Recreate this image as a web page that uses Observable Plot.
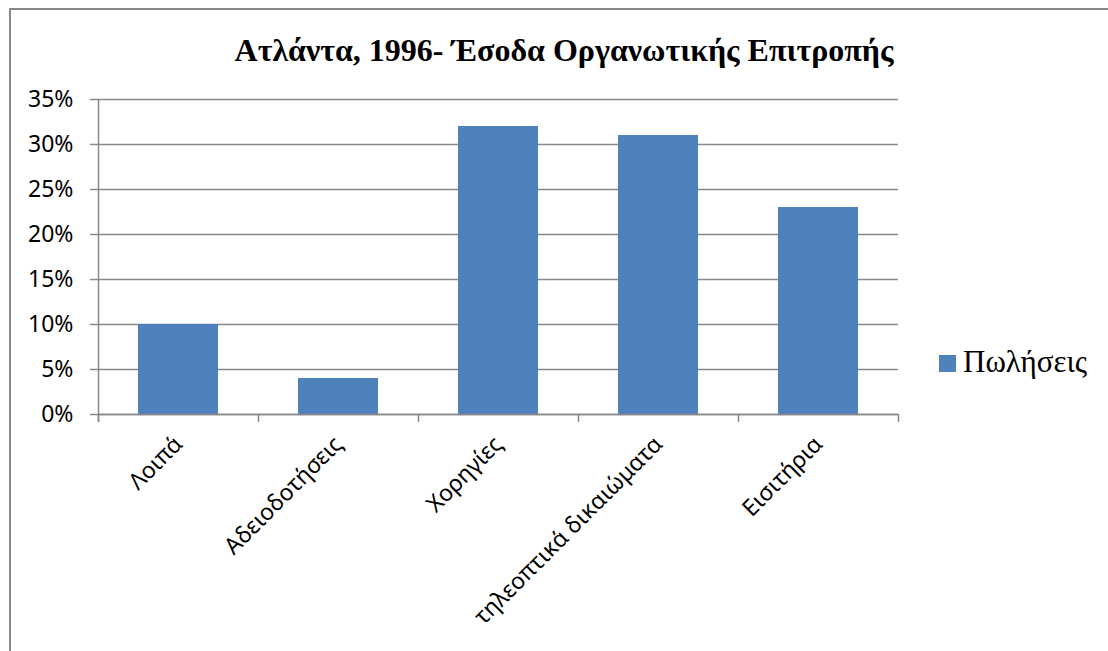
<!DOCTYPE html>
<html>
<head>
<meta charset="utf-8">
<script src="https://cdn.jsdelivr.net/npm/d3@7"></script>
<script src="https://cdn.jsdelivr.net/npm/@observablehq/plot@0.6"></script>
<style>
  html, body { margin: 0; padding: 0; background: #fff; }
  #chart { position: relative; width: 1108px; height: 651px; overflow: hidden; background: #fff; }
  #frame { position: absolute; left: 9px; top: 8px; width: 1200px; height: 1000px; border: 2px solid #898989; box-sizing: border-box; }
  #title { position: absolute; left: 10px; width: 1108px; top: 30px; text-align: center;
           font-family: "Liberation Serif", "Times New Roman", serif; font-weight: bold; font-size: 32px; line-height: 40px; color: #000; white-space: nowrap; }
  #plot { position: absolute; left: 0; top: 80px; }
  #legend { position: absolute; left: 939px; top: 342px; display: flex; align-items: center; height: 40px;
            font-family: "Liberation Serif", "Times New Roman", serif; font-size: 31px; color: #000; white-space: nowrap; }
  #legend .sw { width: 17px; height: 17px; margin-right: 7px; margin-top: 2px; }
</style>
</head>
<body>
<div id="chart">
  <div id="frame"></div>
  <div id="title"></div>
  <div id="plot"></div>
  <div id="legend"><div class="sw"></div><span class="lbl"></span></div>
</div>
<script>
const title = "Ατλάντα, 1996- Έσοδα Οργανωτικής Επιτροπής";
const seriesName = "Πωλήσεις";
const categories = ["Λοιπά", "Αδειοδοτήσεις", "Χορηγίες", "τηλεοπτικά δικαιώματα", "Εισιτήρια"];
const values = [10, 4, 32, 31, 23];
const yTicks = [0, 5, 10, 15, 20, 25, 30, 35];

const barColor = "#4F81BD";
const gray = "#898989";

const data = categories.map((c, i) => ({category: c, value: values[i]}));

document.getElementById("title").textContent = title;
document.querySelector("#legend .sw").style.background = barColor;
document.querySelector("#legend .lbl").textContent = seriesName;

const plot = Plot.plot({
  width: 1108,
  height: 571,
  marginLeft: 98,
  marginRight: 210,
  marginTop: 19,
  marginBottom: 237,
  style: {fontFamily: "'Noto Sans', sans-serif", fontSize: "23px", color: "#000", background: "transparent", overflow: "visible"},
  x: {domain: categories, paddingInner: 0.5, paddingOuter: 0.25, label: null},
  y: {domain: [0, 35], label: null},
  marks: [
    Plot.gridY(yTicks, {stroke: gray, strokeOpacity: 1, strokeWidth: 1.5}),
    Plot.axisY(yTicks, {tickSize: 8, tickPadding: 17, tickFormat: d => d + "%", stroke: gray, strokeOpacity: 1, strokeWidth: 1.5, fill: "#000", label: null}),
    Plot.barY(data, {x: "category", y: "value", fill: barColor}),
    Plot.ruleY([0], {stroke: gray, strokeWidth: 1.5}),
    Plot.ruleX(categories, {x: d => d, y1: 0, y2: 0, insetBottom: -8, dx: -80, stroke: gray, strokeWidth: 1.5}),
    Plot.ruleX([categories[categories.length - 1]], {x: d => d, y1: 0, y2: 0, insetBottom: -8, dx: 80, stroke: gray, strokeWidth: 1.5}),
    Plot.ruleX([categories[0]], {x: d => d, y1: 35, y2: 0, insetBottom: -8, dx: -80, stroke: gray, strokeWidth: 1.5}),
    Plot.axisX({tickSize: 0, tickRotate: -45, tickPadding: 26, fill: "#000", label: null})
  ]
});
document.getElementById("plot").appendChild(plot);
</script>
</body>
</html>
